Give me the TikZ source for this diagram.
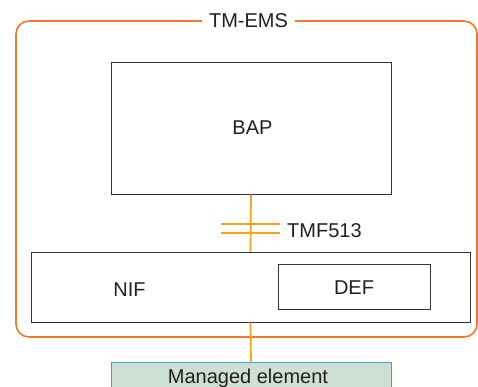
\documentclass[tikz,border=0pt]{standalone}
\usepackage{fontspec}
\setmainfont{Liberation Sans}
\definecolor{txt}{HTML}{231F20}
\definecolor{outerorange}{HTML}{F07A2A}
\definecolor{connorange}{HTML}{F7A21B}
\definecolor{mefill}{HTML}{CCE1D3}
\definecolor{meborder}{HTML}{4A9AD4}
\definecolor{boxgray}{HTML}{333333}
\tikzset{
  lbl/.style={text=txt, font=\fontsize{20}{24}\selectfont, inner sep=0pt},
  blk/.style={draw=boxgray, line width=1pt, inner sep=0pt, rectangle},
  conn/.style={draw=connorange, line width=1.7pt},
}
\begin{document}
\begin{tikzpicture}[x=1pt,y=-1pt]
\useasboundingbox (0,0) rectangle (478,386);
% outer TM-EMS boundary
\draw[outerorange, line width=1.6pt, rounded corners=13pt] (16,21) rectangle (477,337);
\node[lbl, fill=white, inner xsep=7pt, inner ysep=3pt, anchor=base] (tmems) at (248.5,27) {TM-EMS};
% boxes
\node[blk, minimum width=280pt, minimum height=132pt] (bap) at (251,128) {};
\node[lbl, anchor=base] (baplbl) at (252.5,134) {BAP};
\node[blk, minimum width=439pt, minimum height=70pt] (nif) at (250.5,287) {};
\node[lbl, anchor=base] (niflbl) at (129.5,296) {NIF};
\node[blk, minimum width=152pt, minimum height=45pt] (def) at (354,286.5) {};
\node[lbl, anchor=base] (deflbl) at (354,294) {DEF};
\node[draw=meborder, fill=mefill, line width=1pt, inner sep=0pt, minimum width=280pt, minimum height=34pt] (me) at (251,379) {};
\node[lbl, anchor=base] (melbl) at (248,383) {Managed element};
% connectors
\draw[conn] (bap.south) -- (nif.north);
\draw[conn] (nif.south) -- (me.north);
\coordinate (cb1l) at (221,224);
\coordinate (cb1r) at (280,224);
\coordinate (cb2l) at (221,233);
\coordinate (cb2r) at (280,233);
\draw[conn] (cb1l) -- (cb1r);
\draw[conn] (cb2l) -- (cb2r);
\node[lbl, anchor=base west] (tmf) at (287,237) {TMF513};
\end{tikzpicture}
\end{document}
